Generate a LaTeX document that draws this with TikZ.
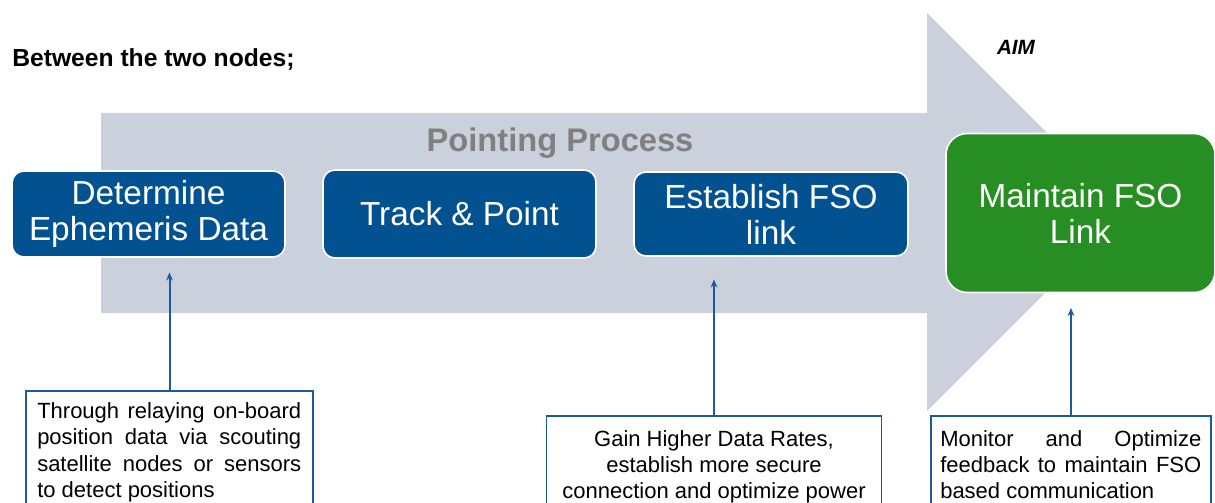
\documentclass[tikz,border=0pt]{standalone}
\usepackage{fontspec}
\setmainfont{Liberation Sans}
\usetikzlibrary{arrows.meta}
\definecolor{arrowgray}{RGB}{203,208,221}
\definecolor{boxblue}{RGB}{2,82,146}
\definecolor{boxgreen}{RGB}{39,142,35}
\definecolor{connblue}{RGB}{28,90,158}
\definecolor{titlegray}{RGB}{128,128,128}
\tikzset{
  stepbox/.style={fill=boxblue, draw=white, line width=1.2pt, rounded corners=9pt,
    text=white, align=center, inner sep=0pt,
    font=\fontsize{25pt}{27pt}\selectfont},
  aimbox/.style={stepbox, fill=boxgreen, rounded corners=16pt},
  notebox/.style={draw=connblue, line width=1.4pt, fill=white, inner sep=0pt},
  notetext/.style={inner sep=0pt, text=black},
  conn/.style={draw=connblue, line width=1.5pt, -{Stealth[length=6pt,width=5pt]}},
}
\begin{document}
\begin{tikzpicture}[x=0.75pt,y=-0.75pt]
\useasboundingbox (0,0) rectangle (1215,503);
\clip (0,0) rectangle (1215,503);
% big process arrow
\fill[arrowgray] (101,113) -- (927,113) -- (927,13) -- (1126,212) -- (927,411) -- (927,313) -- (101,313) -- cycle;
% titles
\node[anchor=base west, inner sep=0pt, font=\fontsize{18.5pt}{22pt}\selectfont\bfseries] (title) at (12,67) {Between the two nodes;};
\node[anchor=base, inner sep=0pt, font=\fontsize{15.5pt}{18pt}\selectfont\bfseries\itshape] (aim) at (1016,55) {AIM};
\node[anchor=base, inner sep=0pt, text=titlegray, font=\fontsize{24.5pt}{28pt}\selectfont\bfseries] (pp) at (560,151.5) {Pointing Process};
% step boxes
\node[stepbox, minimum width=204.75pt, minimum height=64.5pt] (b1) at (148.5,214) {Determine\\Ephemeris Data};
\node[stepbox, minimum width=204.75pt, minimum height=66pt] (b2) at (459.5,214) {Track \& Point};
\node[stepbox, minimum width=205.5pt, minimum height=63pt] (b3) at (771,214) {Establish FSO\\link};
\node[aimbox, minimum width=201.75pt, minimum height=119.25pt] (b4) at (1080.5,213) {Maintain FSO\\Link};
% note boxes
\node[notebox, minimum width=215.25pt, minimum height=112.5pt, anchor=north] (tb1) at (169.5,390) {};
\node[notebox, minimum width=251.25pt, minimum height=93.75pt, anchor=north] (tb2) at (714,415) {};
\node[notebox, minimum width=210pt, minimum height=93.75pt, anchor=north] (tb3) at (1071,415) {};
\node[notetext, anchor=base west] (t1) at (37,418) {\parbox[t]{198pt}{\fontsize{16.5pt}{19.9pt}\selectfont
  Through relaying on-board\linebreak position data via scouting\linebreak satellite nodes or sensors\linebreak to detect positions}};
\node[notetext, anchor=base] (t2) at (714,446) {\parbox[t]{240pt}{\centering\fontsize{16.5pt}{19.6pt}\selectfont
  Gain Higher Data Rates,\\ establish more secure\\ connection and optimize power}};
\node[notetext, anchor=base west] (t3) at (940,446) {\parbox[t]{195.75pt}{\fontsize{16.5pt}{19.6pt}\selectfont
  Monitor and Optimize\linebreak feedback to maintain FSO\linebreak based communication}};
% connectors
\draw[conn, shorten >=11pt] (tb1.north) -- (tb1.north |- b1.south);
\draw[conn, shorten >=17pt] (tb2.north) -- (tb2.north |- b3.south);
\draw[conn, shorten >=11pt] (tb3.north) -- (tb3.north |- b4.south);
\end{tikzpicture}
\end{document}
